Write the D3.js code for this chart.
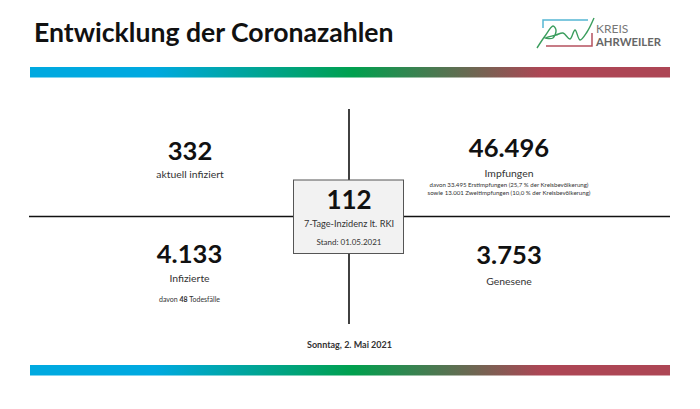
<!DOCTYPE html>
<html>
<head>
<meta charset="utf-8">
<script src="https://cdnjs.cloudflare.com/ajax/libs/d3/7.8.5/d3.min.js"></script>
<style>
  html, body { margin: 0; padding: 0; background: #fff; }
  text { font-family: Lato, "Open Sans", sans-serif; }
</style>
</head>
<body>
<svg id="chart" width="700" height="409"></svg>
<script>
// tiles: value, label, notes
var titles = ["aktuell infiziert", "Impfungen", "Infizierte", "Genesene"]
var values = ["332", "46.496", "4.133", "3.753"]
var notes = [
  [],
  ["davon 33.495 Erstimpfungen (25,7 % der Kreisbevölkerung)", "sowie 13.001 Zweitimpfungen (10,0 % der Kreisbevölkerung)"],
  ["davon <tspan font-weight='700'>48</tspan> Todesfälle"],
  []
]
var centerValue = "112"
var centerTitle = "7-Tage-Inzidenz lt. RKI"
var centerDate = "Stand: 01.05.2021"
var heading = "Entwicklung der Coronazahlen"
var footer = "Sonntag, 2. Mai 2021"
var barStops = [["0%", "#00a9e0"], ["19.5%", "#00a9e0"], ["50.5%", "#00a04e"], ["80%", "#ad4655"], ["100%", "#ad4655"]]

var svg = d3.select("#chart")

var grad = svg.append("defs").append("linearGradient").attr("id", "band")
grad.selectAll("stop").data(barStops).enter().append("stop")
  .attr("offset", d => d[0]).attr("stop-color", d => d[1])

svg.selectAll("rect.band")
  .data([67, 365])
  .enter().append("rect")
  .attr("class", "band")
  .attr("x", 30).attr("width", 640)
  .attr("y", d => d).attr("height", 10.5)
  .attr("fill", "url(#band)")

svg.append("text")
  .attr("x", 34).attr("y", 41.5)
  .attr("font-size", 26.6).attr("font-weight", 700).attr("fill", "#111")
  .text(heading)

// cross
svg.append("line").attr("x1", 29).attr("x2", 670).attr("y1", 216.5).attr("y2", 216.5)
  .attr("stroke", "#111").attr("stroke-width", 1.6)
svg.append("line").attr("x1", 349).attr("x2", 349).attr("y1", 109).attr("y2", 324)
  .attr("stroke", "#111").attr("stroke-width", 1.6)

// tiles
var tileX = [190, 509, 189.500, 509]
var valueY = [159.500, 157, 263, 264]
var titleY = [178, 177, 282, 285]
var noteY = [[], [187, 194.5], [302], []]

var tile = svg.selectAll("g.tile")
  .data(values)
  .enter().append("g")
  .attr("class", "tile")
  .attr("text-anchor", "middle")

tile.append("text")
  .attr("x", (d, i) => tileX[i]).attr("y", (d, i) => valueY[i])
  .attr("font-size", 25.6).attr("font-weight", 700).attr("fill", "#111")
  .text(d => d)

tile.append("text")
  .attr("x", (d, i) => tileX[i]).attr("y", (d, i) => titleY[i])
  .attr("font-size", 10.4).attr("fill", "#333")
  .text((d, i) => titles[i])

tile.each(function(d, i) {
  d3.select(this).selectAll("text.note")
    .data(notes[i])
    .enter().append("text")
    .attr("class", "note")
    .attr("x", tileX[i]).attr("y", (n, j) => noteY[i][j])
    .attr("font-size", i == 2 ? 7 : 6.1).attr("fill", "#333")
    .html(n => n)
})

// center box
svg.append("rect")
  .attr("x", 293.5).attr("y", 180).attr("width", 110).attr("height", 73.5)
  .attr("fill", "#f2f2f2").attr("stroke", "#555").attr("stroke-width", 1)

var mid = svg.append("g").attr("text-anchor", "middle")
mid.append("text").attr("x", 349).attr("y", 209)
  .attr("font-size", 26).attr("font-weight", 700).attr("fill", "#111").text(centerValue)
mid.append("text").attr("x", 349).attr("y", 227)
  .attr("font-size", 9.2).attr("fill", "#333").text(centerTitle)
mid.append("text").attr("x", 349).attr("y", 245)
  .attr("font-size", 8).attr("fill", "#333").text(centerDate)

svg.append("text")
  .attr("x", 349.5).attr("y", 348)
  .attr("text-anchor", "middle")
  .attr("font-size", 9).attr("font-weight", 700).attr("fill", "#333")
  .text(footer)

// logo
var logo = svg.append("g")
var logoLine = d3.line().curve(d3.curveCatmullRom)
logo.append("path")
  .attr("d", "M543 28V20H588")
  .attr("fill", "none").attr("stroke", "#55b7d3").attr("stroke-width", 1.5)
logo.append("path")
  .attr("d", "M546 46H592V33")
  .attr("fill", "none").attr("stroke", "#b5525f").attr("stroke-width", 1.5)
logo.append("path")
  .attr("d", logoLine([[537, 48], [545, 36], [553, 26], [556, 30], [553, 38], [545, 38], [556, 35], [563, 33], [570, 39], [575, 30], [580, 40], [587, 32], [594, 18]]))
  .attr("fill", "none").attr("stroke", "#3a9d5d").attr("stroke-width", 1.4)
logo.append("text").attr("x", 596).attr("y", 33)
  .attr("font-size", 12).attr("fill", "#777").text("KREIS")
logo.append("text").attr("x", 596).attr("y", 46)
  .attr("font-size", 11.3).attr("font-weight", 700).attr("fill", "#666").text("AHRWEILER")
</script>
</body>
</html>
